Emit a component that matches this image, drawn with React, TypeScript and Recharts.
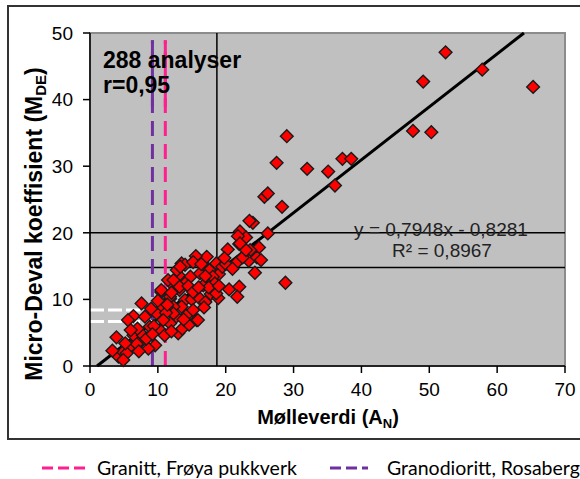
import { ScatterChart, Scatter, XAxis, YAxis, ReferenceLine, ReferenceArea } from 'recharts'

const xTicks = [0, 10, 20, 30, 40, 50, 60, 70]
const yTicks = [0, 10, 20, 30, 40, 50]

// Mølleverdi (A_N), Micro-Deval (M_DE)
const lowPoints: [number, number][] = [
  [13.5, 15.4], [13.1, 13.6], [14.8, 13.4], [14.0, 12.4], [12.3, 12.1], [11.5, 12.9], [10.5, 11.1],
  [13.2, 11.4], [11.8, 10.1], [14.0, 9.9], [13.5, 8.9], [14.2, 7.6], [12.3, 8.9], [10.5, 8.6],
  [12.7, 7.4], [4.2, 1.4], [3.9, 4.3], [4.9, 2.1], [5.9, 2.9], [7.4, 3.6], [6.4, 4.6], [7.8, 4.6],
  [6.4, 7.5], [7.6, 9.4], [8.1, 7.4], [8.8, 5.9], [9.8, 7.9], [10.3, 5.4], [11.8, 6.4], [12.3, 7.9],
  [10.5, 11.4], [11.8, 10.4], [13.2, 11.9], [13.0, 4.9], [9.6, 3.1], [8.6, 2.6], [5.4, 1.9],
  [4.9, 0.9], [5.6, 6.9], [12.3, 12.9], [14.0, 15.2], [12.8, 14.4], [9.0, 8.6], [10.0, 9.8],
  [11.2, 8.0], [10.8, 6.9], [9.4, 6.0], [11.0, 4.6], [12.0, 5.2], [13.6, 5.6], [14.6, 6.2],
  [13.8, 7.0], [11.4, 9.2], [6.9, 3.3], [7.0, 5.6], [8.3, 4.1], [5.2, 3.4], [6.0, 5.4], [15.0, 10.0],
  [14.5, 12.0], [3.3, 2.3], [13.3, 14.9], [12.0, 11.0], [9.2, 4.8], [7.2, 2.2],
]

const midPoints: [number, number][] = [
  [20.3, 17.5], [22.0, 18.3], [24.9, 17.8], [23.6, 17.4], [17.2, 16.4], [21.6, 15.5], [23.4, 15.8],
  [24.6, 16.3], [25.2, 15.9], [24.3, 14.0], [20.5, 11.5], [22.0, 11.9], [21.7, 10.4], [22.5, 16.3],
  [15.6, 16.5], [15.2, 15.6], [17.4, 14.6], [18.6, 15.4], [16.2, 13.9], [16.7, 12.1], [18.1, 12.9],
  [15.2, 11.1], [16.2, 10.1], [15.2, 8.4], [15.7, 6.9], [15.9, 6.9], [17.8, 10.8], [18.4, 11.6],
  [17.0, 9.6], [18.9, 10.2], [19.0, 13.8], [19.5, 14.9], [20.0, 15.3], [17.6, 14.4], [18.1, 13.4],
  [18.4, 12.4], [18.6, 10.9], [16.4, 15.3], [17.0, 13.5], [16.8, 8.8], [17.5, 11.8], [19.0, 12.0],
  [16.0, 11.8], [23.0, 17.4], [21.0, 14.6], [19.8, 16.2],
]

const highPoints: [number, number][] = [
  [52.4, 47.1], [49.1, 42.7], [57.8, 44.5], [65.3, 41.9], [47.6, 35.3], [50.3, 35.1], [29.0, 34.5],
  [27.5, 30.5], [32.0, 29.6], [35.1, 29.2], [37.2, 31.1], [38.5, 31.1], [36.1, 27.1], [25.7, 25.4],
  [26.2, 25.9], [28.3, 23.9], [24.0, 21.5], [23.5, 21.8], [22.1, 20.2], [23.0, 19.3], [26.2, 19.9],
  [21.8, 19.5], [22.1, 18.4], [28.8, 12.5],
]

// regression y = 0,7948x - 0,8281
const slope = 0.7948
const intercept = -0.8281
const trendX = [1.04, 63.95]

const froyaX = 11.1
const froyaLevel = 8.4
const rosabergetX = 9.2
const rosabergetLevel = 6.7
const dashTop = 48.9
const solidFrom = 38.9

const guideX = 18.7
const guideY = [20, 14.8]

const points = [...lowPoints, ...midPoints, ...highPoints].map(([x, y]) => ({ x, y }))
const trend = trendX.map((x) => ({ x, y: slope * x + intercept }))

const PINK = '#ff1f8e'
const PURPLE = '#7030a0'
const FONT = 'Arial, "Liberation Sans", sans-serif'

const Diamond = (props: any) => {
  const { cx, cy } = props
  if (cx == null || cy == null) return <g />
  const r = 6.4
  return (
    <polygon
      points={`${cx},${cy - r} ${cx + r},${cy} ${cx},${cy + r} ${cx - r},${cy}`}
      fill="#ff0000"
      stroke="#1a1a1a"
      strokeWidth={1.4}
    />
  )
}

export default function App() {
  return (
    <div style={{ position: 'absolute', left: 0, top: 0, width: 580, height: 479, overflow: 'hidden', background: '#fff' }}>
      <ScatterChart
        width={580}
        height={479}
        margin={{ top: 33, right: 15, bottom: 73, left: 0 }}
        style={{ fontFamily: FONT }}
      >
        <XAxis
          type="number"
          dataKey="x"
          domain={[0, 70]}
          ticks={xTicks}
          height={40}
          stroke="#000"
          strokeWidth={1.5}
          tickSize={7}
          tickMargin={10}
          tick={{ fill: '#000', fontSize: 19, fontFamily: FONT }}
        />
        <YAxis
          type="number"
          dataKey="y"
          domain={[0, 50]}
          ticks={yTicks}
          width={90}
          stroke="#000"
          strokeWidth={1.5}
          tickSize={7}
          tickMargin={10}
          tick={{ fill: '#000', fontSize: 19, fontFamily: FONT }}
        />
        <ReferenceArea x1={0} x2={70} y1={0} y2={50} fill="#c0c0c0" fillOpacity={1} stroke="#8c8c8c" strokeWidth={2} />
        <ReferenceLine x={guideX} stroke="#000" strokeWidth={1.5} />
        {guideY.map((y) => (
          <ReferenceLine key={y} y={y} stroke="#000" strokeWidth={1.5} />
        ))}
        <Scatter data={points} shape={Diamond} isAnimationActive={false} />
        <ReferenceLine
          segment={[trend[0], trend[1]]}
          stroke="#000"
          strokeWidth={3}
          ifOverflow="visible"
        />
        <ReferenceLine segment={[{ x: 0, y: froyaLevel }, { x: froyaX, y: froyaLevel }]} stroke="#fff" strokeWidth={3} strokeDasharray="14 4" />
        <ReferenceLine segment={[{ x: 0, y: rosabergetLevel }, { x: rosabergetX, y: rosabergetLevel }]} stroke="#fff" strokeWidth={3} strokeDasharray="14 4" />
        <ReferenceLine segment={[{ x: rosabergetX, y: 0 }, { x: rosabergetX, y: dashTop }]} stroke={PURPLE} strokeWidth={3} strokeDasharray="15 8" />
        <ReferenceLine segment={[{ x: rosabergetX, y: solidFrom }, { x: rosabergetX, y: dashTop }]} stroke={PURPLE} strokeWidth={3} />
        <ReferenceLine segment={[{ x: froyaX, y: 0 }, { x: froyaX, y: dashTop }]} stroke={PINK} strokeWidth={3} strokeDasharray="15 8" />
        <ReferenceLine segment={[{ x: froyaX, y: solidFrom }, { x: froyaX, y: dashTop }]} stroke={PINK} strokeWidth={3} />
      </ScatterChart>
      <svg
        width={580}
        height={479}
        style={{ position: 'absolute', left: 0, top: 0, pointerEvents: 'none', fontFamily: FONT }}
      >
        <rect x={8} y={6} width={600} height={433} fill="none" stroke="#333" strokeWidth={2} />
        <text x={103} y={68} fontSize={23} fontWeight="bold" fill="#000">288 analyser</text>
        <text x={103} y={93} fontSize={23} fontWeight="bold" fill="#000">r=0,95</text>
        <text x={441} y={236} fontSize={19} textAnchor="middle" fill="#222">y = 0,7948x - 0,8281</text>
        <text x={442} y={257} fontSize={19} textAnchor="middle" fill="#222">R² = 0,8967</text>
        <text x={328} y={424} fontSize={20} fontWeight="bold" textAnchor="middle" fill="#000">
          Mølleverdi (A<tspan fontSize={13} dy={4}>N</tspan>
          <tspan dy={-4}>)</tspan>
        </text>
        <text transform="translate(42,224) rotate(-90)" fontSize={23} fontWeight="bold" textAnchor="middle" fill="#000">
          Micro-Deval koeffisient (M<tspan fontSize={15} dy={4}>DE</tspan>
          <tspan dy={-4}>)</tspan>
        </text>
        <line x1={42} x2={85} y1={468} y2={468} stroke={PINK} strokeWidth={3} strokeDasharray="11 5" />
        <text x={97} y={475} fontSize={19.5} fontFamily="Lato, sans-serif" fill="#000">Granitt, Frøya pukkverk</text>
        <line x1={330} x2={368} y1={468} y2={468} stroke={PURPLE} strokeWidth={3} strokeDasharray="11 5" />
        <text x={387} y={475} fontSize={19.5} fontFamily="Lato, sans-serif" fill="#000">Granodioritt, Rosaberget</text>
      </svg>
    </div>
  )
}
